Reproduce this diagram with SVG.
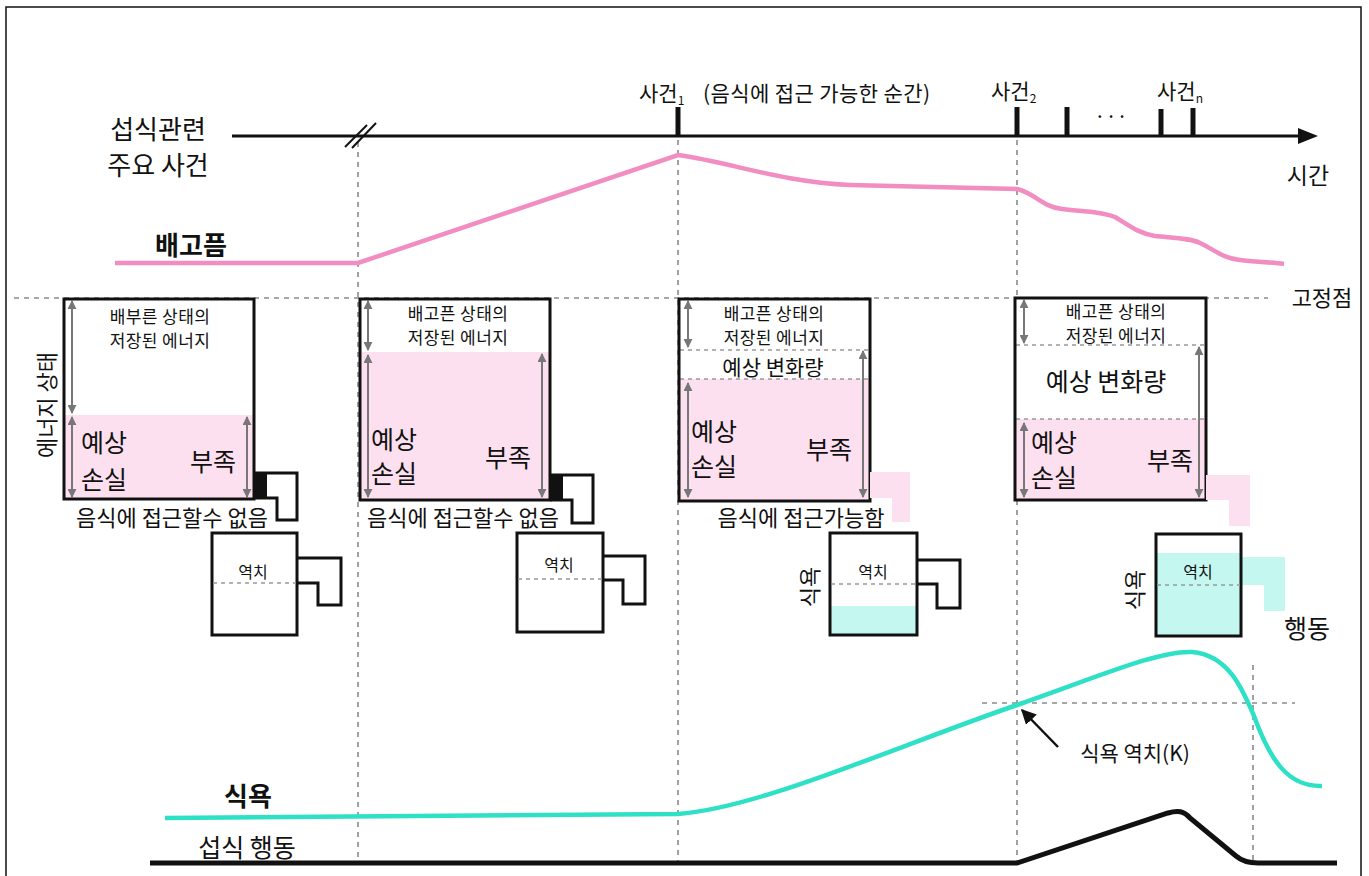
<svg xmlns="http://www.w3.org/2000/svg" width="1369" height="876" viewBox="0 0 1369 876">
<defs>
<style>
text{font-family:"Noto Sans CJK KR","Noto Sans",sans-serif;fill:#111}
.guide{stroke:#8a8a8a;stroke-width:1.6;stroke-dasharray:5 5;fill:none}
.box{fill:none;stroke:#111;stroke-width:3}
.wbox{fill:#fff;stroke:none}
.pink{fill:#fde0f0}
.cyan{fill:#c3f7ef}
.garr{stroke:#777;stroke-width:2;marker-start:url(#gh);marker-end:url(#gh)}
.inner{stroke:#999;stroke-width:1.5;stroke-dasharray:4 4}
.tick{stroke:#111;stroke-width:5}
.sm{font-size:17px;letter-spacing:0.4px}
.big{font-size:25px}
.thr{font-size:16px}
</style>
<marker id="gh" viewBox="0 0 10 10" refX="9" refY="5" markerWidth="9" markerHeight="9" markerUnits="userSpaceOnUse" orient="auto-start-reverse">
<path d="M0,0 L10,5 L0,10 z" fill="#777"/>
</marker>
<marker id="ah" viewBox="0 0 10 10" refX="9" refY="5" markerWidth="15" markerHeight="15" markerUnits="userSpaceOnUse" orient="auto">
<path d="M0,0 L10,5 L0,10 z" fill="#111"/>
</marker>
<marker id="axh" viewBox="0 0 10 10" refX="2" refY="5" markerWidth="20" markerHeight="20" markerUnits="userSpaceOnUse" orient="auto">
<path d="M0,1 L10,5 L0,9 z" fill="#111"/>
</marker>
</defs>
<rect x="6" y="7" width="1355" height="880" fill="#fff" stroke="#111" stroke-width="1.5"/>

<g id="connectors">
<line class="guide" x1="358" y1="142" x2="358" y2="862"/>
<line class="guide" x1="678" y1="140" x2="678" y2="862"/>
<line class="guide" x1="1017" y1="140" x2="1017" y2="862"/>
<line class="guide" x1="1253" y1="665" x2="1253" y2="862"/>
<line class="guide" x1="14" y1="298" x2="1268" y2="298"/>
<line class="guide" x1="982" y1="703" x2="1295" y2="703"/>
<line x1="232" y1="136" x2="1302" y2="136" stroke="#111" stroke-width="3" marker-end="url(#axh)"/>
<line x1="345" y1="147" x2="367" y2="125" stroke="#111" stroke-width="2"/>
<line x1="352" y1="148" x2="376" y2="123" stroke="#111" stroke-width="2"/>
<line class="tick" x1="678" y1="107" x2="678" y2="137"/>
<line class="tick" x1="1017" y1="107" x2="1017" y2="137"/>
<line class="tick" x1="1067" y1="107" x2="1067" y2="137"/>
<line class="tick" x1="1161" y1="109" x2="1161" y2="137"/>
<line class="tick" x1="1193" y1="108" x2="1193" y2="137"/>
<path d="M115,263 L358,263 L678,155 C730,162 780,182 850,185 L1017,189 C1035,193 1042,207 1062,209 C1085,212 1100,211 1115,217 C1130,226 1138,233 1155,236 C1175,238 1190,238 1200,243 C1215,250 1222,258 1240,260 C1255,262 1270,262 1284,264" fill="none" stroke="#f28dc2" stroke-width="4.5"/>
<path d="M165,818 L678,814 C760,808 900,745 1017,705 C1100,676 1160,650 1192,652 C1228,655 1242,688 1254,716 C1270,760 1288,787 1322,786" fill="none" stroke="#2ee0c5" stroke-width="4.5"/>
<path d="M150,863 L1017,863 L1168,813 C1178,810 1184,811 1190,818 L1236,856 C1243,862 1250,863 1258,863 L1337,863" fill="none" stroke="#111" stroke-width="5"/>
<line x1="1058" y1="747" x2="1022" y2="710" stroke="#111" stroke-width="2.5" marker-end="url(#ah)"/>
</g>

<g id="axis-labels">
<text x="158" y="139" font-size="26" text-anchor="middle">섭식관련</text>
<text x="158" y="175" font-size="26" text-anchor="middle">주요 사건</text>
<text x="639" y="101" font-size="21">사건<tspan font-size="12" dy="4">1</tspan></text>
<text x="703" y="101" font-size="21" letter-spacing="0.4">(음식에 접근 가능한 순간)</text>
<text x="991" y="99" font-size="21">사건<tspan font-size="12" dy="4">2</tspan></text>
<text x="1157" y="99" font-size="21">사건<tspan font-size="12" dy="4">n</tspan></text>
<text x="1111" y="124" font-size="20" text-anchor="middle">···</text>
<text x="1308" y="184" font-size="23" text-anchor="middle">시간</text>
<text x="191" y="255" font-size="26" font-weight="bold" text-anchor="middle">배고픔</text>
<text x="1322" y="306" font-size="22" text-anchor="middle">고정점</text>
<text x="1307" y="638" font-size="25" text-anchor="middle">행동</text>
<text x="248" y="806" font-size="26" font-weight="bold" text-anchor="middle">식욕</text>
<text x="247" y="857" font-size="25" text-anchor="middle">섭식 행동</text>
<text x="1135" y="761" font-size="21" text-anchor="middle">식욕 역치(K)</text>
</g>

<g id="box1">
<rect class="wbox" x="64" y="299" width="190" height="200"/>
<rect class="pink" x="64" y="415" width="190" height="84"/>
<line class="garr" x1="72" y1="301" x2="72" y2="413"/>
<line class="garr" x1="72" y1="417" x2="72" y2="497"/>
<line class="garr" x1="247" y1="417" x2="247" y2="497"/>
<rect class="box" x="64" y="299" width="190" height="200"/>
<text class="sm" x="160" y="323" text-anchor="middle">배부른 상태의</text>
<text class="sm" x="160" y="347" text-anchor="middle">저장된 에너지</text>
<text class="big" x="81" y="452">예상</text>
<text class="big" x="81" y="489">손실</text>
<text class="big" x="190" y="471">부족</text>
<text transform="translate(45,405) rotate(-90)" font-size="22" text-anchor="middle" dominant-baseline="central">에너지 상태</text>
<rect x="254" y="473" width="13" height="25" fill="#111"/>
<path d="M254,473 H297 V520 H277 V498 H254" fill="none" stroke="#111" stroke-width="3"/>
<text x="172" y="526" font-size="22" text-anchor="middle">음식에 접근할수 없음</text>
</g>

<g id="cup1">
<rect x="212" y="533" width="85" height="102" fill="#fff" stroke="#111" stroke-width="3"/>
<line class="inner" x1="213" y1="583" x2="296" y2="583"/>
<text class="thr" x="253" y="578" text-anchor="middle">역치</text>
<path d="M297,558 H341 V605 H318 V583 H297" fill="none" stroke="#111" stroke-width="3"/>
</g>

<g id="box2">
<rect class="wbox" x="360" y="299" width="190" height="201"/>
<rect class="pink" x="360" y="352" width="190" height="148"/>
<line class="garr" x1="368" y1="301" x2="368" y2="350"/>
<line class="garr" x1="368" y1="355" x2="368" y2="497"/>
<line class="garr" x1="542" y1="354" x2="542" y2="497"/>
<rect class="box" x="360" y="299" width="190" height="201"/>
<text class="sm" x="458" y="320" text-anchor="middle">배고픈 상태의</text>
<text class="sm" x="458" y="344" text-anchor="middle">저장된 에너지</text>
<text class="big" x="371" y="449">예상</text>
<text class="big" x="371" y="483">손실</text>
<text class="big" x="485" y="467">부족</text>
<rect x="550" y="475" width="13" height="25" fill="#111"/>
<path d="M550,475 H593 V523 H572 V500 H550" fill="none" stroke="#111" stroke-width="3"/>
<text x="463" y="526" font-size="22" text-anchor="middle">음식에 접근할수 없음</text>
</g>

<g id="cup2">
<rect x="517" y="533" width="86" height="99" fill="#fff" stroke="#111" stroke-width="3"/>
<line class="inner" x1="518" y1="579" x2="602" y2="579"/>
<text class="thr" x="559" y="571" text-anchor="middle">역치</text>
<path d="M603,556 H645 V604 H623 V580 H603" fill="none" stroke="#111" stroke-width="3"/>
</g>

<g id="box3">
<rect class="wbox" x="679" y="299" width="191" height="202"/>
<rect class="pink" x="679" y="379" width="191" height="122"/>
<line class="inner" x1="680" y1="350" x2="869" y2="350"/>
<line class="inner" x1="680" y1="379" x2="869" y2="379"/>
<line class="garr" x1="688" y1="301" x2="688" y2="347"/>
<line class="garr" x1="688" y1="383" x2="688" y2="497"/>
<line class="garr" x1="863" y1="351" x2="863" y2="497"/>
<rect class="box" x="679" y="299" width="191" height="202"/>
<text class="sm" x="774" y="320" text-anchor="middle">배고픈 상태의</text>
<text class="sm" x="774" y="344" text-anchor="middle">저장된 에너지</text>
<text x="773" y="375" font-size="21" text-anchor="middle">예상 변화량</text>
<text class="big" x="691" y="441">예상</text>
<text class="big" x="691" y="476">손실</text>
<text class="big" x="806" y="459">부족</text>
<polygon class="pink" points="870,472 910,472 910,522 892,522 892,498 870,498"/>
<text x="801" y="526" font-size="22" text-anchor="middle">음식에 접근가능함</text>
</g>

<g id="cup3">
<rect x="830" y="533" width="87" height="102" fill="#fff"/>
<rect class="cyan" x="830" y="606" width="87" height="29"/>
<rect x="830" y="533" width="87" height="102" fill="none" stroke="#111" stroke-width="3"/>
<line class="inner" x1="831" y1="584" x2="916" y2="584"/>
<text class="thr" x="873" y="578" text-anchor="middle">역치</text>
<path d="M917,560 H960 V608 H937 V584 H917" fill="none" stroke="#111" stroke-width="3"/>
<text transform="translate(808,587) rotate(-90)" font-size="22" text-anchor="middle" dominant-baseline="central">식욕</text>
</g>

<g id="box4">
<rect class="wbox" x="1015" y="298" width="191" height="202"/>
<rect class="pink" x="1015" y="419" width="191" height="81"/>
<line class="inner" x1="1016" y1="345" x2="1205" y2="345"/>
<line class="inner" x1="1016" y1="419" x2="1205" y2="419"/>
<line class="garr" x1="1024" y1="300" x2="1024" y2="343"/>
<line class="garr" x1="1024" y1="423" x2="1024" y2="497"/>
<line class="garr" x1="1199" y1="347" x2="1199" y2="497"/>
<rect class="box" x="1015" y="298" width="191" height="202"/>
<text class="sm" x="1116" y="318" text-anchor="middle">배고픈 상태의</text>
<text class="sm" x="1116" y="342" text-anchor="middle">저장된 에너지</text>
<text x="1106" y="391" font-size="25" text-anchor="middle">예상 변화량</text>
<text class="big" x="1031" y="452">예상</text>
<text class="big" x="1031" y="487">손실</text>
<text class="big" x="1147" y="470">부족</text>
<polygon class="pink" points="1206,475 1250,475 1250,526 1229,526 1229,500 1206,500"/>
</g>

<g id="cup4">
<rect x="1156" y="534" width="85" height="102" fill="#fff"/>
<rect class="cyan" x="1156" y="553" width="85" height="83"/>
<polygon class="cyan" points="1241,557 1285,557 1285,611 1264,611 1264,585 1241,585"/>
<rect x="1156" y="534" width="85" height="102" fill="none" stroke="#111" stroke-width="3"/>
<line class="inner" x1="1157" y1="585" x2="1240" y2="585"/>
<text class="thr" x="1198" y="578" text-anchor="middle">역치</text>
<text transform="translate(1133,590) rotate(-90)" font-size="22" text-anchor="middle" dominant-baseline="central">식욕</text>
</g>
</svg>
